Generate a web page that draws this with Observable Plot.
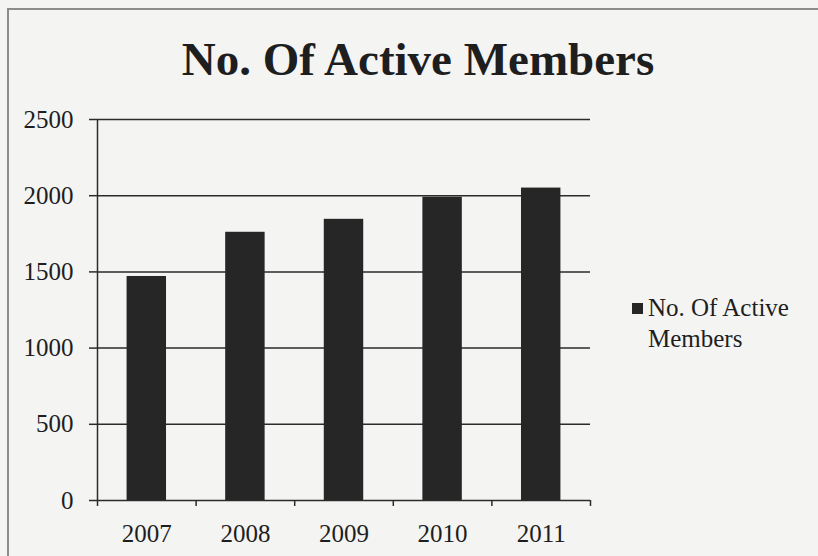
<!DOCTYPE html>
<html>
<head>
<meta charset="utf-8">
<script src="https://cdn.jsdelivr.net/npm/d3@7"></script>
<script src="https://cdn.jsdelivr.net/npm/@observablehq/plot@0.6"></script>
<style>
  html, body { margin: 0; padding: 0; background: #f4f4f3; overflow: hidden; }
  #wrap { position: relative; width: 818px; height: 556px; font-family: "Liberation Serif", "DejaVu Serif", serif; color: #1e1e1e; }
  #frame { position: absolute; left: 7px; top: 8px; width: 900px; height: 700px; border-left: 2px solid #8c8c8c; border-top: 2px solid #8c8c8c; }
  #title { position: absolute; left: 0; width: 836px; top: 31px; text-align: center; font-weight: bold; font-size: 47px; line-height: 56px; }
  #chart { position: absolute; left: 0; top: 0; }
  #legend { position: absolute; left: 632px; top: 292px; display: flex; align-items: flex-start; font-size: 25px; line-height: 31px; }
  #legend .sw { width: 11px; height: 11px; background: #262626; margin-top: 11px; margin-right: 5px; flex: none; }
</style>
</head>
<body>
<div id="wrap">
  <div id="frame"></div>
  <div id="title">No. Of Active Members</div>
  <div id="chart"></div>
  <div id="legend"><div class="sw"></div><div>No. Of Active<br>Members</div></div>
</div>
<script>
const years = [2007, 2008, 2009, 2010, 2011];
const members = [1470, 1760, 1845, 1990, 2050];
const yTicks = [0, 500, 1000, 1500, 2000, 2500];
const seriesName = "No. Of Active Members";

const data = years.map((y, i) => ({year: y, value: members[i]}));
const boundaries = [years[0] - 0.5, ...years.map(y => y + 0.5)];
const half = 0.2;

const chart = Plot.plot({
  width: 620,
  height: 556,
  marginLeft: 97,
  marginRight: 30,
  marginTop: 119,
  marginBottom: 56,
  style: {background: "transparent", fontFamily: "Liberation Serif, serif", fontSize: "25px", color: "#1e1e1e"},
  x: {type: "linear", domain: [years[0] - 0.5, years[years.length - 1] + 0.5]},
  y: {domain: [0, 2500]},
  marks: [
    Plot.ruleY(yTicks.filter(d => d > 0), {stroke: "#2b2b2b", strokeWidth: 1.5}),
    Plot.rectY(data, {x1: d => d.year - half, x2: d => d.year + half, y: "value", fill: "#262626"}),
    Plot.ruleY([0], {stroke: "#2b2b2b", strokeWidth: 1.5}),
    Plot.ruleX([years[0] - 0.5], {stroke: "#2b2b2b", strokeWidth: 1.5}),
    Plot.axisY({ticks: yTicks, tickFormat: d => String(d), tickSize: 8, tickPadding: 16, label: null, stroke: "#2b2b2b", strokeWidth: 1.5, fontSize: 25}),
    Plot.axisX({ticks: boundaries, tickFormat: () => "", tickSize: 6, label: null, stroke: "#2b2b2b", strokeWidth: 1.5}),
    Plot.axisX({ticks: years, tickFormat: d => String(d), tickSize: 0, tickPadding: 24, label: null, fontSize: 25})
  ]
});
document.getElementById("chart").appendChild(chart);
</script>
</body>
</html>
